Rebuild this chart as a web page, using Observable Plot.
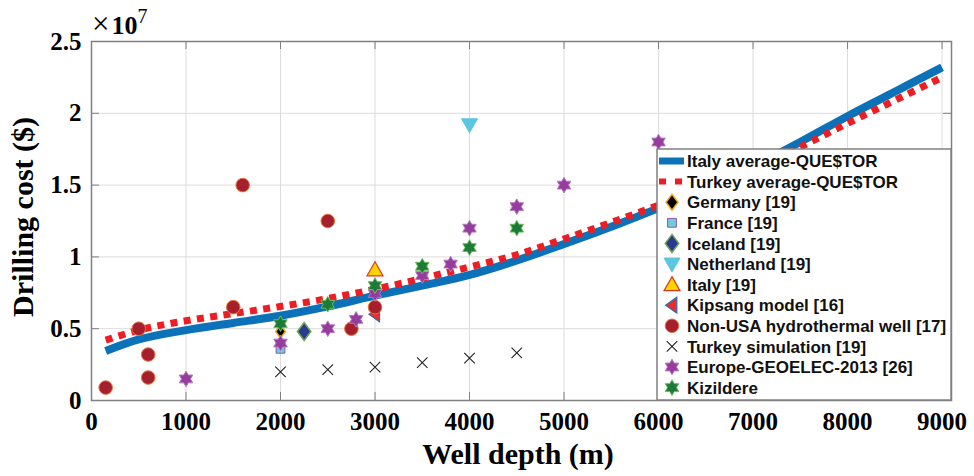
<!DOCTYPE html>
<html><head><meta charset="utf-8">
<script src="https://cdn.jsdelivr.net/npm/d3@7"></script>
<script src="https://cdn.jsdelivr.net/npm/@observablehq/plot@0.6"></script>
<style>body{margin:0;background:#fff} #chart svg{display:block}</style>
</head><body><div id="chart"></div>
<script>
// ---------- data ----------
const curveDepth = [150, 500, 1000, 1500, 2000, 2500, 3000, 3500, 4000, 4500, 5000, 5500, 6000, 6500, 7000, 7500, 8000, 8500, 9000];
const italyAvgCost = [3.45e6, 4.25e6, 4.9e6, 5.4e6, 5.9e6, 6.55e6, 7.3e6, 8.0e6, 8.75e6, 9.75e6, 10.9e6, 12.1e6, 13.4e6, 14.8e6, 16.3e6, 18.0e6, 19.8e6, 21.5e6, 23.2e6];
const turkeyAvgCost = [4.2e6, 4.9e6, 5.55e6, 6.05e6, 6.55e6, 7.1e6, 7.75e6, 8.5e6, 9.3e6, 10.15e6, 11.25e6, 12.4e6, 13.6e6, 14.85e6, 16.1e6, 17.65e6, 19.3e6, 20.9e6, 22.5e6];

const germanyDepth = [2000], germanyCost = [4.8e6];
const franceDepth = [2000], franceCost = [3.6e6];
const icelandDepth = [2250], icelandCost = [4.8e6];
const netherlandDepth = [4000], netherlandCost = [19.2e6];
const italyDepth = [3000], italyCost = [9.1e6];
const kipsangDepth = [3000], kipsangCost = [6.0e6];
const nonUsaDepth = [150, 500, 600, 600, 1500, 1600, 2500, 2750, 3000];
const nonUsaCost = [0.9e6, 5.0e6, 3.2e6, 1.6e6, 6.5e6, 15.0e6, 12.5e6, 5.0e6, 6.5e6];
const turkeySimDepth = [2000, 2500, 3000, 3500, 4000, 4500];
const turkeySimCost = [2.0e6, 2.15e6, 2.32e6, 2.63e6, 2.95e6, 3.32e6];
const europeDepth = [1000, 2000, 2500, 2800, 3000, 3500, 3800, 4000, 4500, 5000, 6000];
const europeCost = [1.5e6, 4.0e6, 5.0e6, 5.65e6, 7.45e6, 8.7e6, 9.5e6, 12.0e6, 13.5e6, 15.0e6, 18.0e6];
const kizildereDepth = [2000, 2500, 3000, 3500, 4000, 4500];
const kizildereCost = [5.35e6, 6.7e6, 8.0e6, 9.35e6, 10.65e6, 12.0e6];

const xTickValues = [0, 1000, 2000, 3000, 4000, 5000, 6000, 7000, 8000, 9000];
const yTickValues = [0, 0.5e7, 1e7, 1.5e7, 2e7, 2.5e7];
const xLabel = "Well depth (m)";
const yLabel = "Drilling cost ($)";

// ---------- symbols ----------
const rad = s => Math.sqrt(s / Math.PI);
const hexagram = {draw(c, s) { const R = rad(s), r = R / Math.sqrt(3);
  for (let i = 0; i < 12; i++) { const a = -Math.PI / 2 + i * Math.PI / 6, q = i % 2 ? r : R;
    const x = q * Math.cos(a), y = q * Math.sin(a); i ? c.lineTo(x, y) : c.moveTo(x, y); } c.closePath(); }};
const diamond = (wr) => ({draw(c, s) { const R = rad(s); c.moveTo(0, -R); c.lineTo(R * wr, 0); c.lineTo(0, R); c.lineTo(-R * wr, 0); c.closePath(); }});
const triUp = {draw(c, s) { const R = rad(s); c.moveTo(0, -R); c.lineTo(R, R * 0.75); c.lineTo(-R, R * 0.75); c.closePath(); }};
const triDown = {draw(c, s) { const R = rad(s); c.moveTo(0, R); c.lineTo(R, -R * 0.75); c.lineTo(-R, -R * 0.75); c.closePath(); }};
const triLeft = {draw(c, s) { const R = rad(s); c.moveTo(-R * 0.8, 0); c.lineTo(R * 0.6, -R); c.lineTo(R * 0.6, R); c.closePath(); }};
const square = {draw(c, s) { const R = rad(s) * 0.8; c.rect(-R, -R, 2 * R, 2 * R); }};
const times = {draw(c, s) { const R = rad(s) * 0.75; c.moveTo(-R, -R); c.lineTo(R, R); c.moveTo(R, -R); c.lineTo(-R, R); }};
const circle = {draw(c, s) { const R = rad(s); c.moveTo(R, 0); c.arc(0, 0, R, 0, 2 * Math.PI); }};

const pts = (xs, ys) => xs.map((x, i) => ({x, y: ys[i]}));

const lineSeries = [
  {name: "Italy average-QUE$TOR", data: pts(curveDepth, italyAvgCost), stroke: "#0B72BA", strokeWidth: 8, dash: null, legendDash: null},
  {name: "Turkey average-QUE$TOR", data: pts(curveDepth, turkeyAvgCost), stroke: "#EE1D23", strokeWidth: 7, dash: "7,6.4", legendDash: "7,9"}
];
const dotSeries = [
  {name: "Germany [19]", data: pts(germanyDepth, germanyCost), symbol: diamond(0.75), r: 6.5, fill: "#000", stroke: "#F2A81D", sw: 1.5, lr: 8},
  {name: "France [19]", data: pts(franceDepth, franceCost), symbol: square, r: 5.5, fill: "#6DCCDD", stroke: "#8E5AA8", sw: 1, lr: 5.5},
  {name: "Iceland [19]", data: pts(icelandDepth, icelandCost), symbol: diamond(0.75), r: 9, fill: "#2B3990", stroke: "#6AA84F", sw: 1.5, lr: 9},
  {name: "Netherland [19]", data: pts(netherlandDepth, netherlandCost), symbol: triDown, r: 8, fill: "#5CC6E0", stroke: "#5CC6E0", sw: 1, lr: 8},
  {name: "Italy [19]", data: pts(italyDepth, italyCost), symbol: triUp, r: 8, fill: "#FFD200", stroke: "#D9381E", sw: 1.2, lr: 8},
  {name: "Kipsang model [16]", data: pts(kipsangDepth, kipsangCost), symbol: triLeft, r: 7.5, fill: "#EE2A2A", stroke: "#2E6DB4", sw: 1.2, lr: 8},
  {name: "Non-USA hydrothermal well [17]", data: pts(nonUsaDepth, nonUsaCost), symbol: circle, r: 6.8, fill: "#A51F2C", stroke: "#E8743B", sw: 1, lr: 6.8},
  {name: "Turkey simulation [19]", data: pts(turkeySimDepth, turkeySimCost), symbol: times, r: 7, fill: "none", stroke: "#222", sw: 1.1, lr: 7},
  {name: "Europe-GEOELEC-2013 [26]", data: pts(europeDepth, europeCost), symbol: hexagram, r: 7.8, fill: "#953C9E", stroke: "#B77BC0", sw: 1, lr: 7.8},
  {name: "Kizildere", data: pts(kizildereDepth, kizildereCost), symbol: hexagram, r: 7.8, fill: "#1D7A38", stroke: "#6BBF59", sw: 1, lr: 7.8}
];

// ---------- layout ----------
const W = 974, H = 476, mL = 91, mR = 23, mT = 41, mB = 76;
const pW = W - mL - mR, pH = H - mT - mB, tickLen = 8;
const axisGray = "#808080";

const chart = Plot.plot({
  width: W, height: H, marginLeft: mL, marginRight: mR, marginTop: mT, marginBottom: mB,
  x: {domain: [0, 9100]},
  y: {domain: [0, 2.5e7]},
  style: {fontFamily: "'Liberation Serif', 'Times New Roman', serif", fontSize: "25px", fontWeight: "bold", color: "#000", background: "#fff"},
  marks: [
    Plot.gridX(xTickValues, {stroke: "#dcdcdc", strokeOpacity: 1}),
    Plot.gridY(yTickValues, {stroke: "#dcdcdc", strokeOpacity: 1}),
    Plot.ruleX(xTickValues, {insetTop: pH - tickLen, stroke: axisGray}),
    Plot.ruleX(xTickValues, {insetBottom: pH - tickLen, stroke: axisGray}),
    Plot.ruleY(yTickValues, {insetRight: pW - tickLen, stroke: axisGray}),
    Plot.ruleY(yTickValues, {insetLeft: pW - tickLen, stroke: axisGray}),
    Plot.axisX({ticks: xTickValues, tickSize: 0, tickPadding: 12, label: null, tickFormat: d => String(d)}),
    Plot.axisY({ticks: yTickValues, tickSize: 0, tickPadding: 10, label: null, tickFormat: d => String(d / 1e7)}),
    ...lineSeries.map(s => Plot.line(s.data, {x: "x", y: "y", stroke: s.stroke, strokeWidth: s.strokeWidth, strokeDasharray: s.dash, strokeLinecap: "butt", curve: "monotone-x"})),
    ...dotSeries.map(s => Plot.dot(s.data, {x: "x", y: "y", symbol: s.symbol, r: s.r, fill: s.fill, stroke: s.stroke, strokeWidth: s.sw})),
    Plot.frame({stroke: axisGray, strokeWidth: 1.5})
  ]
});

const svg = d3.select(chart);
const xs = chart.scale("x"), ys = chart.scale("y");

// exponent label
const ex = svg.append("text").attr("x", xs.apply(0) + 1).attr("y", ys.apply(2.5e7) - 7)
  .attr("text-anchor", "start").attr("font-family", "'Liberation Serif', serif").attr("fill", "#000");
ex.append("tspan").attr("font-size", 31).attr("font-weight", "normal").text("\u00d7");
ex.append("tspan").attr("font-size", 26).attr("font-weight", "bold").attr("dx", 2).text("10");
ex.append("tspan").attr("font-size", 20).attr("font-weight", "normal").attr("dy", -11).text("7");

// axis titles
svg.append("text").attr("x", (mL + W - mR) / 2 - 3).attr("y", H - 12).attr("text-anchor", "middle")
  .attr("font-family", "'Liberation Serif', serif").attr("font-weight", "bold").attr("font-size", 30).text(xLabel);
svg.append("text").attr("transform", `translate(33,${mT + pH * 0.49}) rotate(-90)`).attr("text-anchor", "middle")
  .attr("font-family", "'Liberation Serif', serif").attr("font-weight", "bold").attr("font-size", 30).text(yLabel);

// legend
const lgW = 294, lgH = 251, lgX = W - mR - lgW, lgY = H - mB - lgH;
const lg = svg.append("g").attr("text-anchor", "start");
lg.append("rect").attr("x", lgX).attr("y", lgY).attr("width", lgW).attr("height", lgH)
  .attr("fill", "#fff").attr("stroke", axisGray).attr("stroke-width", 1.5);
const rowH = 20.6, row0 = lgY + 12, symX = lgX + 15, txtX = lgX + 30;
const entries = [...lineSeries.map(s => ({...s, kind: "line"})), ...dotSeries.map(s => ({...s, kind: "dot"}))];
entries.forEach((e, i) => {
  const y = row0 + i * rowH;
  if (e.kind === "line") {
    lg.append("line").attr("x1", lgX + 2).attr("x2", lgX + 27).attr("y1", y).attr("y2", y)
      .attr("stroke", e.stroke).attr("stroke-width", e.strokeWidth - 1).attr("stroke-dasharray", e.legendDash);
  } else {
    lg.append("path").attr("transform", `translate(${symX},${y})`)
      .attr("d", d3.symbol().type(e.symbol).size(Math.PI * e.lr * e.lr)())
      .attr("fill", e.fill).attr("stroke", e.stroke).attr("stroke-width", e.sw);
  }
  lg.append("text").attr("x", txtX).attr("y", y).attr("dy", "0.36em").attr("text-anchor", "start")
    .attr("font-family", "'Liberation Sans', Arial, sans-serif").attr("font-weight", "bold").attr("font-size", 17)
    .attr("fill", "#111").text(e.name);
});

document.getElementById("chart").appendChild(chart);
</script>
</body></html>
